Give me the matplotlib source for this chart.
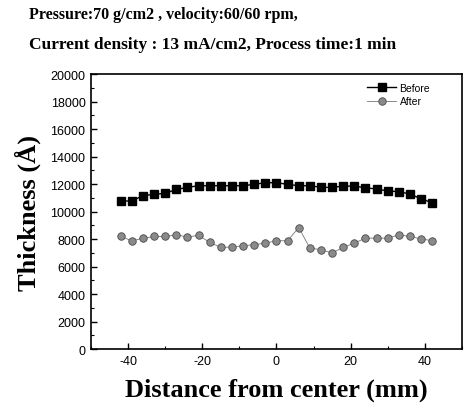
import matplotlib
matplotlib.use('Agg')
import matplotlib.pyplot as plt
from matplotlib.ticker import MultipleLocator

# positions across the wafer (mm)
distance = [-42, -39, -36, -33, -30, -27, -24, -21, -18, -15, -12, -9, -6, -3, 0,
            3, 6, 9, 12, 15, 18, 21, 24, 27, 30, 33, 36, 39, 42]

# thickness before polishing (A)
before = [10770, 10770, 11160, 11250, 11330, 11610, 11760, 11880, 11880, 11880,
          11880, 11880, 11980, 12100, 12100, 11980, 11880, 11880, 11760, 11760,
          11850, 11850, 11730, 11640, 11500, 11450, 11280, 10920, 10650]

# thickness after polishing (A)
after = [8190, 7880, 8050, 8190, 8190, 8310, 8150, 8270, 7760, 7400,
         7420, 7520, 7590, 7710, 7880, 7880, 8840, 7350, 7230, 6990,
         7400, 7710, 8070, 8070, 8070, 8310, 8190, 8020, 7880]

x_ticks = [-40, -20, 0, 20, 40]
x_ticklabels = ['-40', '-20', '0', '20', '40']

serif = ['Liberation Serif', 'DejaVu Serif']
sans = ['Liberation Sans', 'DejaVu Sans']

fig = plt.figure(figsize=(4.67, 4.10), dpi=100)
ax = fig.add_axes([0.195, 0.146, 0.794, 0.671])

ax.plot(distance, before, '-', color='black', linewidth=1.0,
        marker='s', markersize=6.3, markerfacecolor='black',
        markeredgecolor='black', label='Before')
ax.plot(distance, after, '-', color='#777777', linewidth=0.6,
        marker='o', markersize=5.4, markerfacecolor='#8a8a8a',
        markeredgecolor='#4a4a4a', markeredgewidth=0.6, label='After')

ax.set_xlim(-50, 50)
ax.set_ylim(0, 20000)
ax.set_xticks(x_ticks)
ax.set_xticklabels(x_ticklabels, family=sans)
ax.xaxis.set_minor_locator(MultipleLocator(10))
ax.yaxis.set_major_locator(MultipleLocator(2000))
ax.yaxis.set_minor_locator(MultipleLocator(1000))
ax.tick_params(which='major', direction='in', length=4, width=1,
               labelsize=9, pad=4)
ax.tick_params(which='minor', direction='in', length=2, width=0.8)
for lab in ax.get_yticklabels():
    lab.set_family(sans)
for s in ax.spines.values():
    s.set_linewidth(1.2)

ax.set_xlabel('Distance from center (mm)', family=serif, fontweight='bold',
              fontsize=19, labelpad=8)
ax.set_ylabel('Thickness (\u00c5)', family=serif, fontweight='bold',
              fontsize=19, labelpad=7)

ax.legend(loc='upper left', bbox_to_anchor=(0.745, 0.968), frameon=False,
          prop={'family': sans, 'size': 7.5}, handlelength=2.8,
          handletextpad=0.3, labelspacing=0.35, borderpad=0,
          borderaxespad=0)

fig.text(0.062, 0.963, 'Pressure:70 g/cm2 , velocity:60/60 rpm,',
         family=serif, fontweight='bold', fontsize=11.5, va='center')
fig.text(0.062, 0.89, 'Current density : 13 mA/cm2, Process time:1 min',
         family=serif, fontweight='bold', fontsize=12.5, va='center')

fig.savefig('out.png', dpi=100)
